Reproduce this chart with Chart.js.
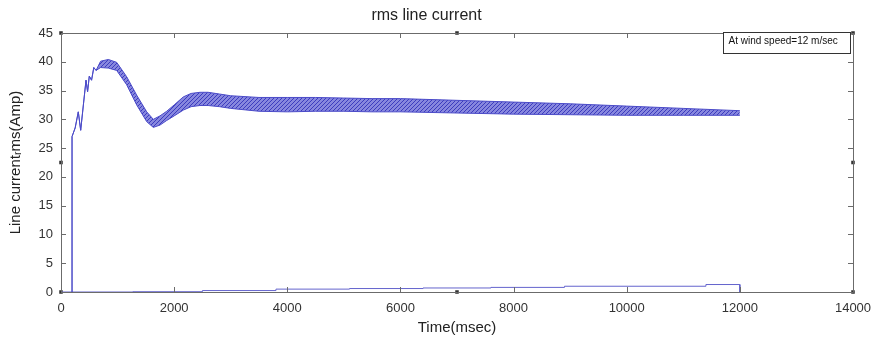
<!DOCTYPE html>
<html>
<head>
<meta charset="utf-8">
<script src="https://cdn.jsdelivr.net/npm/chart.js@4/dist/chart.umd.min.js"></script>
<style>
html,body{margin:0;padding:0;background:#fff;}
#wrap{width:875px;height:344px;position:relative;}
</style>
</head>
<body>
<div id="wrap"><canvas id="c" width="875" height="344"></canvas></div>
<script>
// Time (msec) sample points of the rms line current band
const bandTime = [195, 195, 250, 306, 348, 442, 470, 500, 540, 580, 620, 700, 837, 984, 1161, 1338, 1515, 1632, 1750, 1868, 2000, 2162, 2300, 2457, 2600, 2800, 3000, 3500, 4000, 4500, 5000, 5500, 6000, 7000, 8000, 9000, 10000, 11000, 12000];
// upper and lower envelope of the oscillating current (Amp)
const bandUpper = [0, 27, 28.5, 31.3, 28.1, 36.8, 34.8, 37.5, 36.8, 39.0, 38.5, 40.1, 40.4, 39.9, 37.4, 34.2, 31.3, 30.0, 30.6, 31.4, 32.5, 33.9, 34.5, 34.7, 34.7, 34.4, 34.1, 33.8, 33.8, 33.8, 33.7, 33.6, 33.6, 33.3, 33.0, 32.7, 32.3, 31.9, 31.5];
const bandLower = [0, 27, 28.5, 31.3, 28.1, 36.8, 34.8, 37.5, 36.8, 39.0, 38.5, 39.0, 38.9, 38.5, 36.0, 32.5, 29.6, 28.6, 29.0, 29.8, 30.6, 31.6, 32.2, 32.4, 32.4, 32.2, 31.9, 31.4, 31.3, 31.4, 31.4, 31.3, 31.3, 31.1, 30.9, 30.8, 30.7, 30.7, 30.7];
// low stepped trace near zero
const lowTime = [0, 1270, 1270, 2500, 2500, 3800, 3800, 5100, 5100, 6400, 6400, 7600, 7600, 8900, 8900, 11400, 11400, 12000, 12000];
const lowValue = [0, 0, 0.05, 0.05, 0.25, 0.25, 0.5, 0.5, 0.6, 0.6, 0.7, 0.7, 0.8, 0.8, 1.0, 1.0, 1.3, 1.3, 0];
// figure edit handles
const handleX = [0, 7000, 14000, 0, 14000, 0, 7000, 14000];
const handleY = [45, 45, 45, 22.5, 22.5, 0, 0, 0];
const xTicks = [0, 2000, 4000, 6000, 8000, 10000, 12000, 14000];
const yTicks = [0, 5, 10, 15, 20, 25, 30, 35, 40, 45];
const chartTitle = 'rms line current';
const xTitle = 'Time(msec)';
const yTitle = 'Line current\u1d63ms(Amp)';
const noteText = 'At wind speed=12 m/sec';

const pts = (xs, ys) => xs.map((x, i) => ({x: x, y: ys[i]}));
const FONT = '"Liberation Sans", Arial, sans-serif';

// hatched fill to mimic dense oscillation
function makePattern() {
  const p = document.createElement('canvas');
  p.width = 4; p.height = 4;
  const g = p.getContext('2d');
  g.fillStyle = 'rgb(135,135,222)';
  g.fillRect(0, 0, 4, 4);
  g.strokeStyle = 'rgb(60,60,190)';
  g.lineWidth = 1;
  g.beginPath();
  g.moveTo(-1, 5); g.lineTo(5, -1);
  g.moveTo(-1, 1); g.lineTo(1, -1);
  g.moveTo(3, 5); g.lineTo(5, 3);
  g.stroke();
  return g.createPattern(p, 'repeat');
}

const framePlugin = {
  id: 'frame',
  afterDatasetsDraw(chart) {
    const {ctx, chartArea: a, scales} = chart;
    const xs = scales.x, ys = scales.y;
    ctx.save();
    ctx.strokeStyle = '#6b6b6b';
    ctx.lineWidth = 1;
    ctx.beginPath();
    ctx.rect(Math.round(a.left) + 0.5, Math.round(a.top) + 0.5, Math.round(a.right - a.left), Math.round(a.bottom - a.top));
    ctx.stroke();
    ctx.beginPath();
    xTicks.forEach(v => {
      const px = Math.round(xs.getPixelForValue(v)) + 0.5;
      ctx.moveTo(px, a.bottom); ctx.lineTo(px, a.bottom - 5);
      ctx.moveTo(px, a.top); ctx.lineTo(px, a.top + 5);
    });
    yTicks.forEach(v => {
      const py = Math.round(ys.getPixelForValue(v)) + 0.5;
      ctx.moveTo(a.left, py); ctx.lineTo(a.left + 5, py);
      ctx.moveTo(a.right, py); ctx.lineTo(a.right - 5, py);
    });
    ctx.stroke();
    // annotation box
    const bx = 723.5, by = 32.5, bw = 127, bh = 21;
    ctx.fillStyle = '#fff';
    ctx.fillRect(bx, by, bw, bh);
    ctx.strokeStyle = '#333';
    ctx.strokeRect(bx, by, bw, bh);
    ctx.fillStyle = '#111';
    ctx.font = '10px ' + FONT;
    ctx.textBaseline = 'middle';
    ctx.textAlign = 'left';
    ctx.fillText(noteText, bx + 5, by + 9);
    ctx.restore();
  }
};

new Chart(document.getElementById('c'), {
  type: 'line',
  data: {
    datasets: [
      {
        label: 'upper',
        data: pts(bandTime, bandUpper),
        borderColor: 'rgb(75,75,200)',
        borderWidth: 1,
        pointRadius: 0,
        fill: false,
        tension: 0
      },
      {
        label: 'lower',
        data: pts(bandTime, bandLower),
        borderColor: 'rgb(75,75,200)',
        backgroundColor: makePattern(),
        borderWidth: 1,
        pointRadius: 0,
        fill: '-1',
        tension: 0
      },
      {
        label: 'low',
        data: pts(lowTime, lowValue),
        borderColor: 'rgb(100,100,205)',
        borderWidth: 1,
        pointRadius: 0,
        fill: false,
        tension: 0
      },
      {
        label: 'handles',
        type: 'scatter',
        data: pts(handleX, handleY),
        pointStyle: 'rect',
        pointRadius: 2.5,
        backgroundColor: '#333',
        borderColor: '#333',
        borderWidth: 0,
        clip: false
      }
    ]
  },
  options: {
    responsive: false,
    animation: false,
    devicePixelRatio: 1,
    layout: {padding: {top: 0, right: 22, left: 0, bottom: 0}},
    plugins: {
      legend: {display: false},
      tooltip: {enabled: false},
      title: {
        display: true,
        text: chartTitle,
        color: '#222',
        font: {family: FONT, size: 16, weight: 'normal'},
        padding: {top: 6.4, bottom: 7.4}
      }
    },
    scales: {
      x: {
        type: 'linear',
        min: 0, max: 14000,
        afterBuildTicks: s => { s.ticks = xTicks.map(v => ({value: v})); },
        afterFit: s => { s.height = 52; s.paddingRight = 0; s.paddingLeft = 0; },
        grid: {display: false, drawTicks: false},
        border: {display: false},
        ticks: {color: '#333', padding: 9, maxRotation: 0, font: {family: FONT, size: 13}, callback: v => String(v)},
        title: {display: true, text: xTitle, color: '#222', padding: {top: 7, bottom: 7}, font: {family: FONT, size: 15}}
      },
      y: {
        type: 'linear',
        min: 0, max: 45,
        afterBuildTicks: s => { s.ticks = yTicks.map(v => ({value: v})); },
        afterFit: s => { s.width = 61; },
        grid: {display: false, drawTicks: false},
        border: {display: false},
        ticks: {color: '#333', padding: 8, font: {family: FONT, size: 13}, callback: v => String(v)},
        title: {display: true, text: yTitle, color: '#222', padding: {top: 7, bottom: 7}, font: {family: FONT, size: 15}}
      }
    }
  },
  plugins: [framePlugin]
});
</script>
</body>
</html>
